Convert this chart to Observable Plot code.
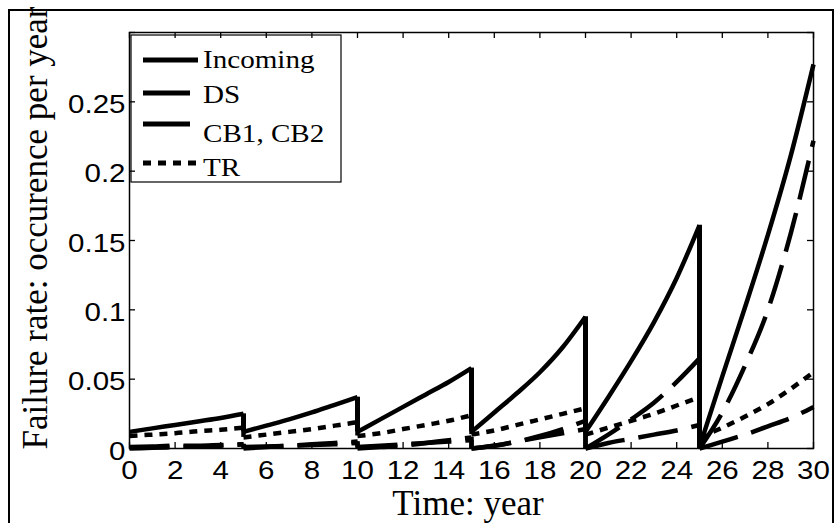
<!DOCTYPE html>
<html><head><meta charset="utf-8">
<script src="https://cdn.jsdelivr.net/npm/d3@7"></script>
<script src="https://cdn.jsdelivr.net/npm/@observablehq/plot@0.6"></script>
<style>
html,body{margin:0;padding:0;background:#fff;}
#wrap{position:relative;width:837px;height:523px;overflow:hidden;}
#wrap svg{position:absolute;left:0;top:0;}
#outer{position:absolute;left:8px;top:9px;width:826px;height:540px;border:2px solid #000;box-sizing:border-box;pointer-events:none;}
</style></head><body><div id="wrap"><div id="outer"></div></div>
<script>
// ---- data ----
const seriesNames = ["Incoming", "DS", "CB1, CB2", "TR"];
const segmentStarts = [0, 5, 10, 15, 20, 25];
const segmentOffsets = [0, 1, 2, 3, 4, 5];
const incoming = [
  [0.012, 0.0145, 0.017, 0.0195, 0.022, 0.025],
  [0.012, 0.0165, 0.021, 0.026, 0.0315, 0.037],
  [0.012, 0.021, 0.030, 0.039, 0.048, 0.058],
  [0.012, 0.026, 0.040, 0.055, 0.073, 0.095],
  [0.012, 0.037, 0.063, 0.091, 0.123, 0.161],
  [0.001, 0.052, 0.102, 0.154, 0.211, 0.277]
];
const ds = [
  [0.000, 0.0005, 0.001, 0.0015, 0.002, 0.003],
  [0.000, 0.001, 0.002, 0.003, 0.004, 0.005],
  [0.000, 0.001, 0.002, 0.004, 0.006, 0.008],
  [0.000, 0.002, 0.005, 0.009, 0.014, 0.020],
  [0.000, 0.010, 0.021, 0.033, 0.048, 0.065],
  [0.000, 0.026, 0.060, 0.100, 0.155, 0.222]
];
const cb = [
  [0.001, 0.0015, 0.002, 0.002, 0.0025, 0.003],
  [0.001, 0.0015, 0.002, 0.0025, 0.003, 0.004],
  [0.001, 0.002, 0.003, 0.004, 0.005, 0.006],
  [0.000, 0.002, 0.005, 0.008, 0.011, 0.014],
  [0.000, 0.004, 0.007, 0.010, 0.013, 0.017],
  [0.000, 0.005, 0.010, 0.016, 0.022, 0.030]
];
const tr = [
  [0.009, 0.010, 0.011, 0.0125, 0.0135, 0.015],
  [0.008, 0.010, 0.012, 0.014, 0.0165, 0.019],
  [0.009, 0.011, 0.014, 0.017, 0.020, 0.024],
  [0.010, 0.013, 0.017, 0.021, 0.025, 0.029],
  [0.010, 0.015, 0.020, 0.025, 0.031, 0.037],
  [0.008, 0.015, 0.023, 0.032, 0.043, 0.055]
];
const xTicks = [0, 2, 4, 6, 8, 10, 12, 14, 16, 18, 20, 22, 24, 26, 28, 30];
const yTicks = [0, 0.05, 0.1, 0.15, 0.2, 0.25];
const yTickMarks = [0, 0.05, 0.1, 0.15, 0.2, 0.25, 0.3];
const xLabel = "Time: year";
const yLabel = "Failure rate: occurence per year";

// ---- build rows ----
const seriesValues = [incoming, ds, cb, tr];
function rowsFor(name, segs) {
  const out = [];
  segs.forEach((seg, k) => seg.forEach((v, i) => out.push({series: name, seg: k, t: segmentStarts[k] + segmentOffsets[i], v})));
  return out;
}
function dropsFor(name, segs) {
  const out = [];
  for (let k = 1; k < segs.length; k++) out.push({series: name, t: segmentStarts[k], from: segs[k - 1][segs[k - 1].length - 1], to: segs[k][0]});
  return out;
}
const styles = {
  "Incoming": {dash: null, legendLen: 55},
  "DS": {dash: "40,14", legendLen: 47},
  "CB1, CB2": {dash: "40,14", legendLen: 47},
  "TR": {dash: "8,7", legendLen: 55}
};
const SW = 4.5;
function seriesMarks(i) {
  const name = seriesNames[i];
  const common = {stroke: "black", strokeWidth: SW, strokeDasharray: styles[name].dash, strokeLinecap: "butt"};
  return [
    Plot.line(rowsFor(name, seriesValues[i]), {x: "t", y: "v", z: "seg", curve: "monotone-x", strokeLinejoin: "round", ...common}),
    Plot.ruleX(dropsFor(name, seriesValues[i]), {x: "t", y1: "from", y2: "to", ...common, strokeDasharray: null, strokeWidth: name === "Incoming" ? 5 : SW})
  ];
}
// draw order: CB, DS, TR, Incoming on top
const ordered = [...seriesMarks(2), ...seriesMarks(1), ...seriesMarks(3), ...seriesMarks(0)];

// inward tick marks on all four sides (frame is 684 x 416 px; ticks are 6 px)
const tk = {stroke: "black", strokeWidth: 1.3};
const tickMarks = [
  Plot.tickX(xTicks, {x: d => d, insetTop: 410, ...tk}),
  Plot.tickX(xTicks, {x: d => d, insetBottom: 410, ...tk}),
  Plot.tickY(yTickMarks, {y: d => d, insetRight: 678, ...tk}),
  Plot.tickY(yTickMarks, {y: d => d, insetLeft: 678, ...tk})
];

const chart = Plot.plot({
  width: 837, height: 523,
  marginLeft: 129, marginRight: 24, marginTop: 32, marginBottom: 75,
  x: {domain: [0, 30]},
  y: {domain: [0, 0.3]},
  style: {background: "transparent", fontFamily: "Liberation Sans", fontSize: "25px", color: "black"},
  marks: [
    ...ordered,
    Plot.frame({stroke: "black", strokeWidth: 1.5}),
    ...tickMarks,
    Plot.axisX(xTicks, {anchor: "bottom", tickSize: 0, tickPadding: 13, label: null, fontSize: 25, tickFormat: d => String(d)}),
    Plot.axisY(yTicks, {anchor: "left", tickSize: 0, tickPadding: 4, dy: 3, label: null, fontSize: 25, tickFormat: d => String(d)})
  ]
});

const wrap = document.getElementById("wrap");
wrap.insertBefore(chart, document.getElementById("outer"));

const svg = d3.select(chart);
// horizontal stretch of tick labels as in the reference
chart.querySelectorAll('g[aria-label="x-axis tick label"] text, g[aria-label="y-axis tick label"] text').forEach(t => {
  const tr0 = t.getAttribute("transform") || "";
  if (tr0) t.setAttribute("transform", tr0 + " scale(1.18,1)");
});

// legend (beneath the axes box and ticks, above the lines)
const frameNode = chart.querySelector('[aria-label="frame"]');
const lg = document.createElementNS("http://www.w3.org/2000/svg", "g");
chart.insertBefore(lg, frameNode);
const L = d3.select(lg).attr("text-anchor", "start");
L.append("rect").attr("x", 131).attr("y", 35).attr("width", 210).attr("height", 147)
  .attr("fill", "white").attr("stroke", "black").attr("stroke-width", 1.2);
const lineY = [60, 93, 124, 163];
const textY = [68, 103, 142, 176];
seriesNames.forEach((name, i) => {
  const st = styles[name];
  L.append("line").attr("x1", 143).attr("x2", 143 + st.legendLen)
    .attr("y1", lineY[i]).attr("y2", lineY[i])
    .attr("stroke", "black").attr("stroke-width", 5)
    .attr("stroke-dasharray", name === "TR" ? st.dash : null);
  L.append("text").attr("transform", `translate(203,${textY[i]}) scale(1.12,1)`)
    .attr("text-anchor", "start")
    .attr("font-family", "Liberation Serif").attr("font-size", 26).attr("fill", "black")
    .text(name);
});

// axis titles
svg.append("text").attr("x", 468).attr("y", 515).attr("text-anchor", "middle")
  .attr("font-family", "Liberation Serif").attr("font-size", 35).attr("fill", "black").text(xLabel);
svg.append("text").attr("transform", "translate(47,228) rotate(-90)").attr("text-anchor", "middle")
  .attr("font-family", "Liberation Serif").attr("font-size", 35).attr("fill", "black").text(yLabel);
</script></body></html>
